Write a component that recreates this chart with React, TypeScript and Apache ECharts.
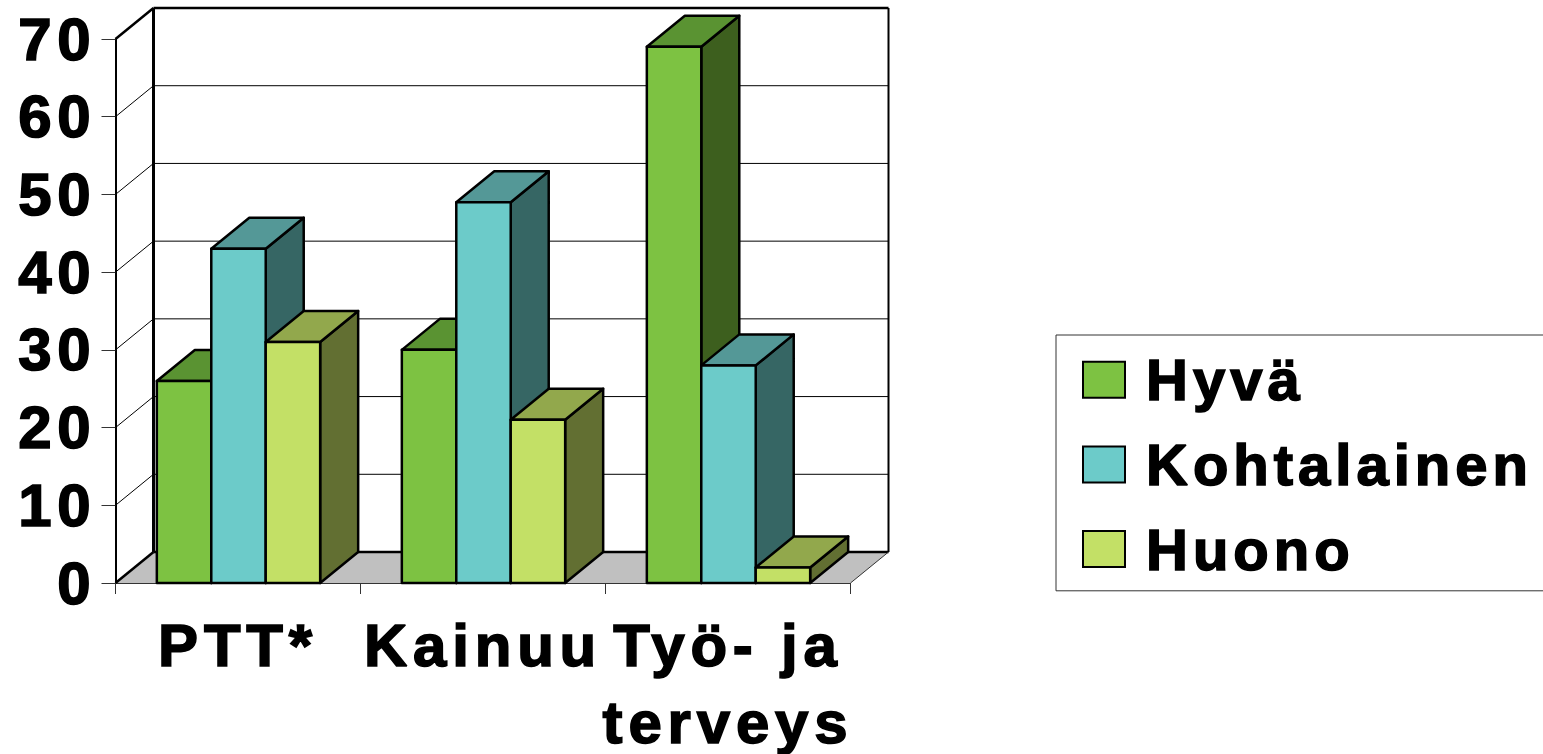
import React, { useEffect, useRef } from "react";
import * as echarts from "echarts";

const categories = ["PTT*", "Kainuu", "Työ- ja\nterveys"];
const seriesNames = ["Hyvä", "Kohtalainen", "Huono"];
const hyva = [26, 30, 69];
const kohtalainen = [43, 49, 28];
const huono = [31, 21, 2];
const yTicks = [0, 10, 20, 30, 40, 50, 60, 70];

const palettes = [
  { front: "#7DC242", top: "#5A9332", side: "#3D5F1E" },
  { front: "#6CCBC9", top: "#549897", side: "#366664" },
  { front: "#C3E066", top: "#92A84C", side: "#626F32" },
];

const DX = 38;
const DY = -31;
const FONT = "'Liberation Sans', Arial, sans-serif";
const textLook = {
  fontFamily: FONT,
  fontWeight: "bold",
  fontSize: 58,
  color: "#000",
  textBorderColor: "#000",
  textBorderWidth: 1.6,
};

const ln = (x1: number, y1: number, x2: number, y2: number, w: number, c = "#000") => ({
  type: "line",
  shape: { x1, y1, x2, y2 },
  style: { stroke: c, lineWidth: w, fill: "none" },
});

function renderFrame(params: any, api: any) {
  const v = api.value(1);
  const cs = params.coordSys;
  const left = cs.x;
  const right = cs.x + cs.width;
  const y = api.coord([0, v])[1];
  const children: any[] = [];
  if (v === 0) {
    children.push({
      type: "polygon",
      shape: { points: [[left, y], [left + DX, y + DY], [right + DX, y + DY], [right, y]] },
      style: { fill: "#C0C0C0", stroke: "none" },
    });
    children.push(ln(left + DX, y + DY, right + DX, y + DY, 2.5));
    children.push(ln(left, y, left + DX, y + DY, 2.5));
    children.push(ln(right, y, right + DX, y + DY, 1, "#333"));
  } else if (v === 70) {
    children.push(ln(left + DX, y + DY, right + DX, y + DY, 2.5));
    children.push(ln(left, y, left + DX, y + DY, 2.5));
    const y0 = api.coord([0, 0])[1];
    children.push(ln(left + DX, y + DY, left + DX, y0 + DY, 3));
    children.push(ln(right + DX, y + DY, right + DX, y0 + DY, 2));
  } else {
    children.push(ln(left + DX, y + DY, right + DX, y + DY, 1));
    children.push(ln(left, y, left + DX, y + DY, 1));
  }
  return { type: "group", children };
}

const makeBarRenderer = (seriesIndex: number) => (params: any, api: any) => {
  const cat = api.value(0);
  const val = api.value(1);
  const band = api.size([1, 0])[0];
  const w = band / 4.5;
  const center = api.coord([cat, 0])[0] + 0.5;
  const x0 = center + (seriesIndex - 1.5) * w;
  const x1 = x0 + w;
  const yTop = api.coord([cat, val])[1];
  const yBase = api.coord([cat, 0])[1];
  const p = palettes[seriesIndex];
  const st = (fill: string) => ({ fill, stroke: "#000", lineWidth: 2.5, lineJoin: "round" });
  return {
    type: "group",
    children: [
      {
        type: "polygon",
        shape: { points: [[x1, yBase], [x1 + DX, yBase + DY], [x1 + DX, yTop + DY], [x1, yTop]] },
        style: st(p.side),
      },
      {
        type: "polygon",
        shape: { points: [[x0, yTop], [x0 + DX, yTop + DY], [x1 + DX, yTop + DY], [x1, yTop]] },
        style: st(p.top),
      },
      { type: "rect", shape: { x: x0, y: yTop, width: w, height: yBase - yTop }, style: st(p.front) },
    ],
  };
};

const toData = (vals: number[]) => vals.map((v, i) => [i, v]);

export default function App() {
  const ref = useRef<HTMLDivElement>(null);
  useEffect(() => {
    const chart = echarts.init(ref.current!, undefined, { renderer: "svg" });
    const values = [hyva, kohtalainen, huono];
    chart.setOption({
      animation: false,
      backgroundColor: "#fff",
      grid: { left: 115.5, top: 39, width: 735, height: 544, containLabel: false, outerBoundsMode: "none" },
      xAxis: {
        type: "category",
        data: categories,
        axisLine: { show: true, lineStyle: { color: "#333", width: 1 } },
        axisTick: { show: true, length: 11, alignWithLabel: false, lineStyle: { color: "#333", width: 1 } },
        axisLabel: {
          ...textLook,
          fontSize: 60,
          interval: 0,
          margin: 24,
          lineHeight: 77,
        },
      },
      yAxis: {
        type: "value",
        min: 0,
        max: 70,
        interval: 10,
        splitLine: { show: false },
        axisLine: { show: true, lineStyle: { color: "#000", width: 2 } },
        axisTick: { show: true, length: 14, lineStyle: { color: "#333", width: 1 } },
        axisLabel: {
          ...textLook,
          fontSize: 60,
          margin: 19,
        },
      },
      legend: {
        show: true,
        orient: "vertical",
        left: 1056,
        top: 335,
        padding: [15, 200, 12, 26],
        borderColor: "#333",
        borderWidth: 1,
        itemWidth: 42,
        itemHeight: 36,
        itemGap: 25,
        selectedMode: false,
        textStyle: { ...textLook, padding: [0, 0, 0, 16] },
        data: seriesNames.map((name, i) => ({
          name,
          icon: "rect",
          itemStyle: { color: palettes[i].front, borderColor: "#000", borderWidth: 2 },
        })),
      },
      series: [
        {
          type: "custom",
          name: "frame",
          z: 1,
          silent: true,
          clip: false,
          renderItem: renderFrame,
          encode: { x: 0, y: 1 },
          data: yTicks.map((v) => [0, v]),
        },
        ...seriesNames.map((name, i) => ({
          type: "custom",
          name,
          z: 2 + i,
          clip: false,
          itemStyle: { color: palettes[i].front },
          renderItem: makeBarRenderer(i),
          encode: { x: 0, y: 1 },
          data: toData(values[i]),
        })),
      ],
    });
    return () => chart.dispose();
  }, []);
  return (
    <>
      <style>{`svg text { letter-spacing: 5px; } svg text[style*="60px"] { letter-spacing: 5.8px; }`}</style>
      <div ref={ref} style={{ position: "fixed", left: 0, top: 0, width: 1543, height: 754 }} />
    </>
  );
}
